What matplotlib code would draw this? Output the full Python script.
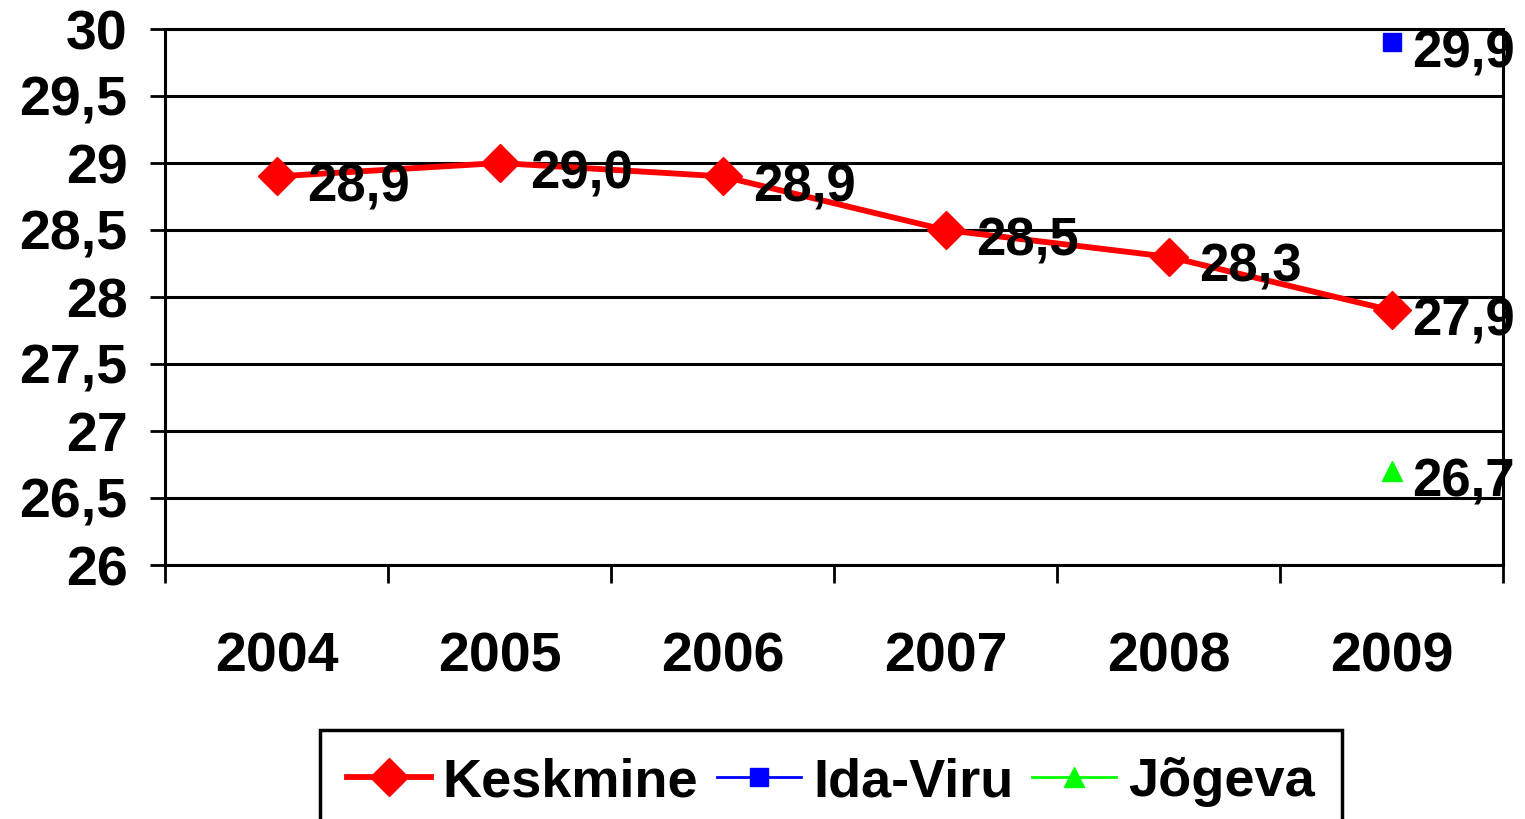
import numpy as np
import matplotlib
matplotlib.use("Agg")
import matplotlib.pyplot as plt
from matplotlib.ticker import FuncFormatter

plt.rcParams['font.family'] = ['Liberation Sans', 'DejaVu Sans']
plt.rcParams['font.weight'] = 'bold'

# data
years = ['2004', '2005', '2006', '2007', '2008', '2009']
keskmine = [28.9, 29.0, 28.9, 28.5, 28.3, 27.9]
ida_viru = [np.nan, np.nan, np.nan, np.nan, np.nan, 29.9]
jogeva = [np.nan, np.nan, np.nan, np.nan, np.nan, 26.7]

fig = plt.figure(figsize=(15.25, 8.19), dpi=100)
ax = fig.add_axes([165/1525, 1 - 565/819, (1503 - 165)/1525, (565 - 29)/819])

x = np.arange(len(years))
ax.plot(x, keskmine, color='#ff0000', lw=4.2, marker='D', ms=19, label='Keskmine', zorder=3)
ax.plot(x, ida_viru, color='#0000ff', lw=2, marker='s', ms=13, label='Ida-Viru', zorder=3)
ax.plot(x, jogeva, color='#00ff00', lw=2, marker='^', ms=14, label='Jõgeva', zorder=3)

# data labels to the right of the points
for series in (keskmine, ida_viru, jogeva):
    for i, v in enumerate(series):
        if np.isnan(v):
            continue
        dx = 15 if i == len(years) - 1 else 22
        ax.annotate(f'{v:.1f}'.replace('.', ','), (x[i], v), xytext=(dx, -8),
                    textcoords='offset points', ha='left', va='center',
                    fontsize=38, fontweight='bold', zorder=4)

ax.set_ylim(26, 30)
ax.set_yticks(np.arange(26, 30.01, 0.5))
ax.yaxis.set_major_formatter(FuncFormatter(lambda v, p: f'{v:g}'.replace('.', ',')))
ax.yaxis.grid(True, color='black', lw=2.2)
ax.set_axisbelow(True)

ax.set_xlim(-0.5, 5.5)
ax.set_xticks(x)
ax.set_xticklabels(years)
ax.set_xticks(np.arange(-0.5, 6, 1), minor=True)
ax.tick_params(axis='x', which='major', length=0, pad=48, labelsize=40)
ax.tick_params(axis='x', which='minor', length=13, width=2)
ax.tick_params(axis='y', length=11, width=2, pad=16, labelsize=40)

for s in ax.spines.values():
    s.set_linewidth(2.2)
    s.set_color('black')

leg = fig.legend(loc='upper center', bbox_to_anchor=(831/1525, 1 - 730/819), ncol=3,
                 fontsize=39, numpoints=1, handlelength=1.55, handletextpad=0.22,
                 columnspacing=0.35, borderpad=0.5, borderaxespad=0, fancybox=False,
                 frameon=True, framealpha=1, edgecolor='black')
leg.get_frame().set_linewidth(2.5)

fig.savefig('out.png', dpi=100)
